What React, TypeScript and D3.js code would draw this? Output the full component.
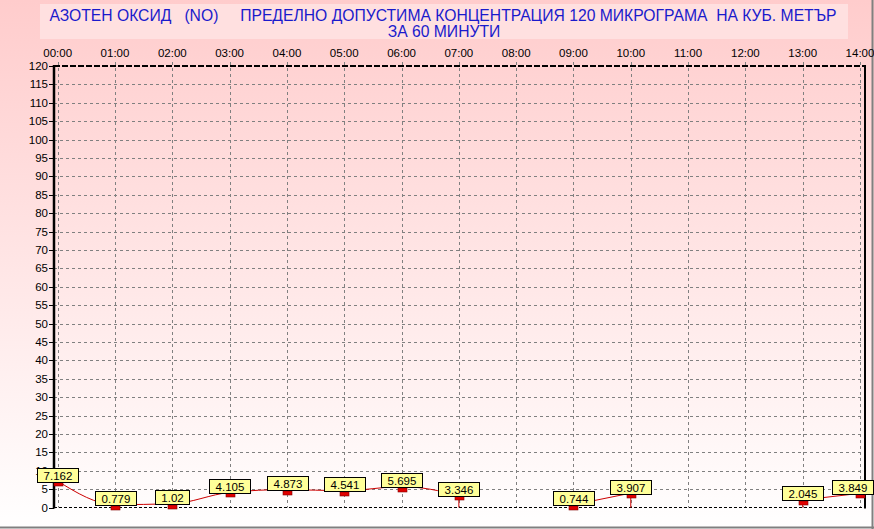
import React from "react";
import * as d3 from "d3";

const hours = ["00:00","01:00","02:00","03:00","04:00","05:00","06:00","07:00","08:00","09:00","10:00","11:00","12:00","13:00","14:00"];
const values: (number | null)[] = [7.162, 0.779, 1.02, 4.105, 4.873, 4.541, 5.695, 3.346, null, 0.744, 3.907, null, null, 2.045, 3.849];
const yTicks = d3.range(0, 121, 5);
const titleLine1 = "АЗОТЕН ОКСИД   (NO)     ПРЕДЕЛНО ДОПУСТИМА КОНЦЕНТРАЦИЯ 120 МИКРОГРАМА  НА КУБ. МЕТЪР";
const titleLine2 = "ЗА 60 МИНУТИ";

const W = 874, H = 529;
const FONT = "'Liberation Sans', Arial, sans-serif";

function textW(s: string, size: number) {
  let w = 0;
  for (const c of s) w += c === "." ? 0.278 : 0.556;
  return w * size;
}

export default function App() {
  const x = d3.scaleLinear().domain([0, 14]).range([57.7, 860]);
  const y = d3.scaleLinear().domain([0, 120]).range([507.5, 66]);
  const left = 54, right = 865, top = 66, bottom = 507.5;

  const segs: { i: number; v: number }[][] = [];
  let cur: { i: number; v: number }[] = [];
  values.forEach((v, i) => {
    if (v == null) { if (cur.length) segs.push(cur); cur = []; }
    else cur.push({ i, v });
  });
  if (cur.length) segs.push(cur);

  const line = d3.line<{ i: number; v: number }>()
    .x(d => x(d.i)).y(d => y(d.v)).curve(d3.curveMonotoneX);

  const drops: { i: number; v: number }[] = [];
  segs.forEach((s, k) => {
    if (k > 0) drops.push(s[0]);
    if (k < segs.length - 1) drops.push(s[s.length - 1]);
  });

  return (
    <div style={{ position: "fixed", left: 0, top: 0 }}>
      <svg width={W} height={H} style={{ display: "block" }}>
        <defs>
          <linearGradient id="bg" x1="0" y1="0" x2="0" y2="1">
            <stop offset="0" stopColor="#ffcccc" />
            <stop offset="1" stopColor="#ffffff" />
          </linearGradient>
        </defs>
        <rect x={0} y={0} width={W} height={H} fill="url(#bg)" />
        <line x1={0} x2={W} y1={527.5} y2={527.5} stroke="#808080" strokeWidth={2} />
        <line x1={872.5} x2={872.5} y1={0} y2={H} stroke="#808080" strokeWidth={2} />

        <rect x={40} y={4} width={808} height={35} fill="#ffe0e0" />
        <text x={443} y={21} textAnchor="middle" fontFamily={FONT} fontSize={15.7} fill="#1a1acc" style={{ whiteSpace: "pre" }}>{titleLine1}</text>
        <text x={444} y={37} textAnchor="middle" fontFamily={FONT} fontSize={15.7} fill="#1a1acc">{titleLine2}</text>

        {yTicks.filter(t => t > 0 && t < 120).map(t => (
          <line key={"h" + t} x1={left} x2={right} y1={Math.round(y(t)) + 0.5} y2={Math.round(y(t)) + 0.5} stroke="#808080" strokeDasharray="3,3" />
        ))}
        {hours.map((h, i) => (
          <line key={"v" + i} x1={Math.round(x(i)) + 0.5} x2={Math.round(x(i)) + 0.5} y1={top - 4} y2={bottom} stroke="#808080" strokeDasharray="3,3" />
        ))}

        <line x1={left} x2={right + 1} y1={top} y2={top} stroke="#000" strokeWidth={2} strokeDasharray="6,2" />
        <line x1={left} x2={right + 1} y1={bottom} y2={bottom} stroke="#000" strokeDasharray="3,2" />
        <line x1={right} x2={right} y1={top - 1} y2={bottom + 1} stroke="#000" strokeWidth={2} />
        <line x1={left} x2={left} y1={top - 1} y2={bottom + 1} stroke="#000" strokeWidth={2.5} />

        {yTicks.map(t => (
          <g key={"yt" + t}>
            <line x1={49} x2={left} y1={Math.round(y(t)) + 0.5} y2={Math.round(y(t)) + 0.5} stroke="#000" />
            <text x={48} y={y(t) + 4} textAnchor="end" fontFamily={FONT} fontSize={11.5} fill="#000">{t}</text>
          </g>
        ))}
        {hours.map((h, i) => (
          <text key={"xl" + i} x={x(i)} y={57} textAnchor="middle" fontFamily={FONT} fontSize={11.5} fill="#000">{h}</text>
        ))}

        {segs.map((s, k) => (
          <path key={"s" + k} d={line(s) || ""} fill="none" stroke="#cc0000" strokeWidth={1} />
        ))}
        {drops.map((d, k) => (
          <line key={"d" + k} x1={x(d.i)} x2={x(d.i)} y1={y(d.v)} y2={bottom} stroke="#cc0000" />
        ))}

        {values.map((v, i) => {
          if (v == null) return null;
          const cx = x(i), cy = y(v);
          const label = String(v);
          const tw = textW(label, 11.5);
          const bw = tw + 12, bh = 14;
          let bx = cx - bw / 2;
          if (bx + bw > 873) bx = 873 - bw;
          const bb = Math.min(cy + 0.5, 505.5);
          return (
            <g key={"m" + i}>
              <rect x={Math.round(cx) - 4} y={Math.round(cy) + 1} width={9} height={4} fill="#e00000" stroke="#800000" strokeWidth={0.6} />
              <rect x={Math.round(bx) + 0.5} y={Math.round(bb - bh) + 0.5} width={Math.round(bw)} height={bh} fill="#ffff99" stroke="#000" />
              <text x={Math.round(bx) + 0.5 + Math.round(bw) / 2} y={Math.round(bb - bh) + 11.5} textAnchor="middle" fontFamily={FONT} fontSize={11.5} fill="#000">{label}</text>
            </g>
          );
        })}
      </svg>
    </div>
  );
}
